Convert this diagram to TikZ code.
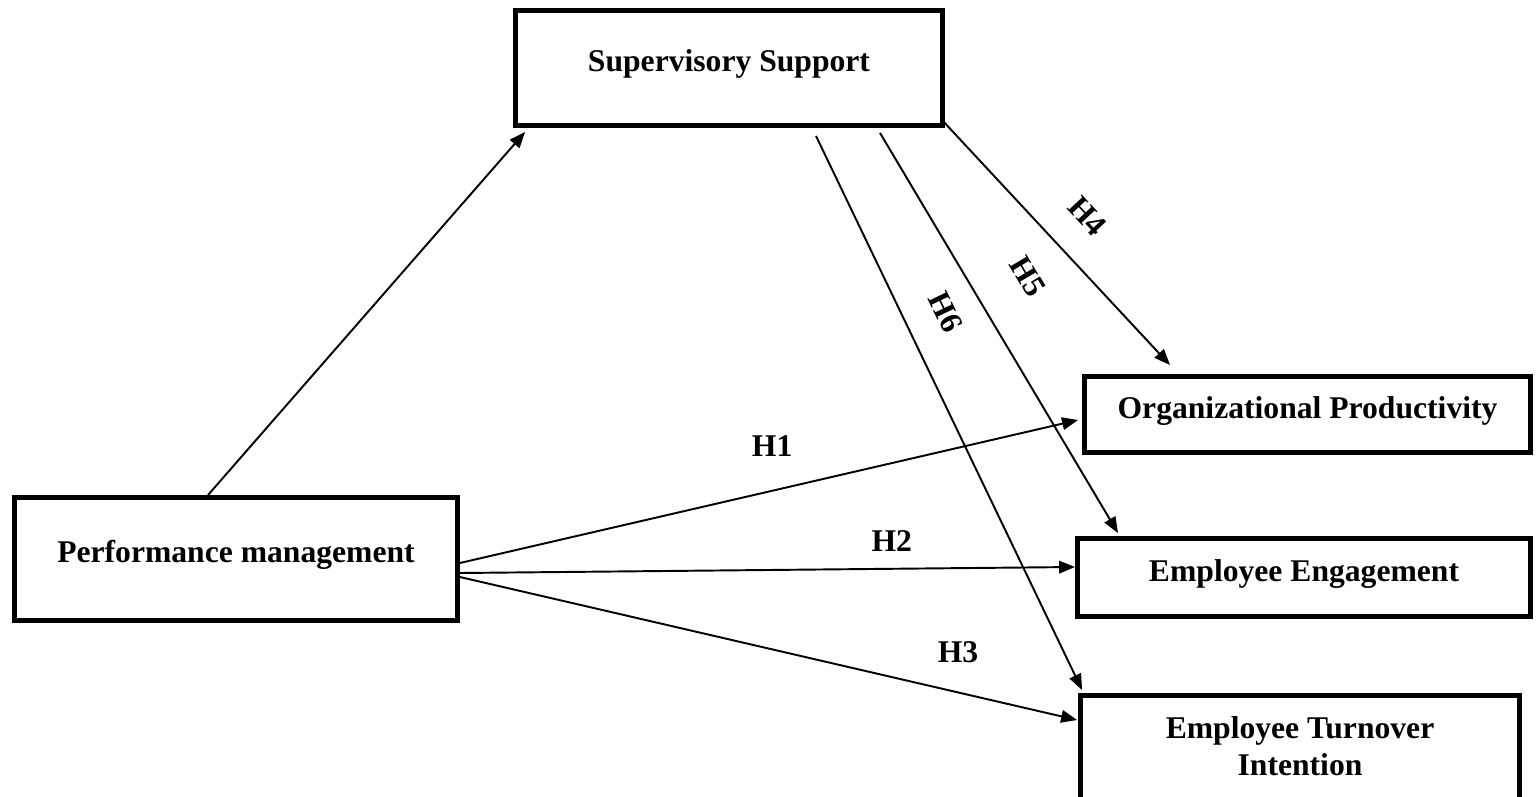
\documentclass[tikz,border=0pt]{standalone}
\usepackage{fontspec}
\setmainfont{Liberation Serif}
\usetikzlibrary{arrows.meta, positioning}

\begin{document}
\begin{tikzpicture}[
      x=0.02cm, y=-0.02cm,
      box/.style={rectangle, draw, line width=2.8pt, inner sep=0pt,
        font=\fontsize{18}{21}\selectfont\bfseries,
        text height=0.45cm, text depth=0.31cm},
      hyp/.style={inner sep=0pt, font=\fontsize{18}{21}\selectfont\bfseries},
      link/.style={->, line width=1.1pt},
      >={Triangle[length=0.32cm, width=0.25cm]}
    ]
    \useasboundingbox (0,0) rectangle (1540,797);

    % Constructs
    \node[box, minimum width=8.54cm, minimum height=2.30cm] (ss) at (729,68) {Supervisory Support};
    \node[box, minimum width=8.86cm, minimum height=2.46cm] (pm) at (236,559) {Performance management};
    \node[box, minimum width=8.92cm, minimum height=1.52cm] (op) at (1307.5,414.5) {Organizational Productivity};
    \node[box, minimum width=9.06cm, minimum height=1.56cm] (ee) at (1304,577.5) {Employee Engagement};
    \node[box, minimum width=8.78cm, minimum height=2.49cm, align=center,
      text height=1.19cm, text depth=0.47cm] (eti) at (1300,757.75) {Employee Turnover\\Intention};

    % Connections
    \draw[link] ([shift={(-28,0)}]pm.north) -- ([shift={(12,4)}]ss.south west);
    \draw[link] ([shift={(-3,-8)}]ss.south east) -- node[hyp, sloped, above=0.59cm, pos=0.507] {H4} ([shift={(-137.5,-9)}]op.north);
    \draw[link] ([shift={(151,5)}]ss.south) -- node[hyp, sloped, above=0.84cm, pos=0.428] {H5} ([shift={(-186,-3)}]ee.north);
    \draw[link] ([shift={(87,8)}]ss.south) -- node[hyp, sloped, above=0.58cm, pos=0.35] {H6} ([shift={(4,-3)}]eti.north west);
    \draw[link] ([shift={(0,4)}]pm.east) -- node[hyp, above=0.67cm, pos=0.505] {H1} ([shift={(-4,5.5)}]op.west);
    \draw[link] ([shift={(0,14)}]pm.east) -- node[hyp, above=0.33cm, pos=0.702] {H2} ([shift={(0,-10.5)}]ee.west);
    \draw[link] ([shift={(0,18)}]pm.east) -- node[hyp, above=0.58cm, pos=0.807] {H3} ([shift={(-1,-37.75)}]eti.west);

\end{tikzpicture}
\end{document}
